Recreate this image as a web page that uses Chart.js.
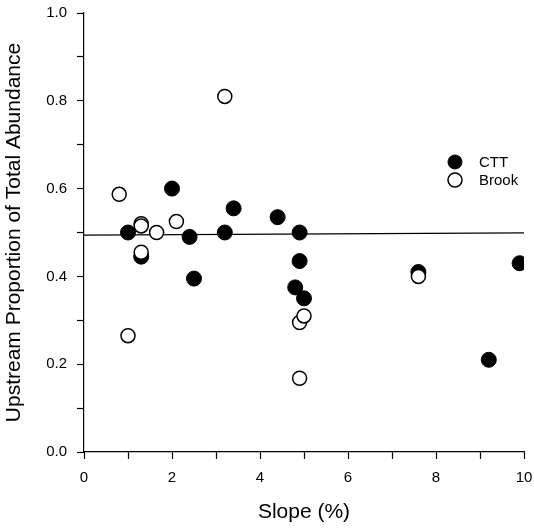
<!DOCTYPE html>
<html>
<head>
<meta charset="utf-8">
<script src="https://cdn.jsdelivr.net/npm/chart.js@4/dist/chart.umd.min.js"></script>
<style>
  html, body { margin: 0; padding: 0; background: #fff; }
  #wrap { width: 534px; height: 529px; }
</style>
</head>
<body>
<div id="wrap"><canvas id="grafica"></canvas></div>
<script>
// Datos
var cttX = [1.0, 1.3, 2.0, 2.4, 2.5, 3.2, 3.4, 4.4, 4.9, 4.9, 4.8, 5.0, 7.6, 9.9, 9.2];
var cttY = [0.50, 0.445, 0.60, 0.49, 0.395, 0.50, 0.555, 0.535, 0.50, 0.435, 0.375, 0.35, 0.41, 0.43, 0.21];

var brookX = [0.8, 1.0, 1.3, 1.3, 1.3, 1.65, 2.1, 3.2, 4.9, 5.0, 4.9, 7.6];
var brookY = [0.587, 0.265, 0.52, 0.515, 0.455, 0.50, 0.525, 0.81, 0.295, 0.31, 0.168, 0.40];

// Recta de regresion (extremos)
var lineaX = [0, 10];
var lineaY = [0.494, 0.499];

var etiquetas = ['CTT', 'Brook'];

function puntos(xs, ys) {
  return xs.map(function(x, i) { return { x: x, y: ys[i] }; });
}

var fuente = '"Liberation Sans", Arial, sans-serif';

// Leyenda dibujada dentro del area
var leyenda = {
  id: 'leyenda',
  afterDraw: function(chart) {
    var ctx = chart.ctx;
    var x0 = 455, y0 = 162, paso = 18;
    chart.data.datasets.forEach(function(ds, i) {
      if (!ds.label) return;
      var y = y0 + i * paso;
      ctx.save();
      ctx.beginPath();
      ctx.arc(x0, y, 7, 0, Math.PI * 2);
      ctx.fillStyle = ds.backgroundColor;
      ctx.fill();
      ctx.lineWidth = ds.borderWidth;
      ctx.strokeStyle = ds.borderColor;
      ctx.stroke();
      ctx.fillStyle = '#000';
      ctx.font = '15px ' + fuente;
      ctx.textBaseline = 'middle';
      ctx.fillText(ds.label, x0 + 24, y + 1);
      ctx.restore();
    });
  }
};

new Chart(document.getElementById('grafica').getContext('2d'), {
  data: {
    datasets: [
      {
        type: 'scatter',
        label: etiquetas[0],
        data: puntos(cttX, cttY),
        backgroundColor: '#000',
        borderColor: '#000',
        borderWidth: 1,
        pointRadius: 7.5,
        order: 1
      },
      {
        type: 'scatter',
        label: etiquetas[1],
        data: puntos(brookX, brookY),
        backgroundColor: '#fff',
        borderColor: '#000',
        borderWidth: 1.5,
        pointRadius: 7,
        order: 0
      },
      {
        type: 'line',
        label: '',
        data: puntos(lineaX, lineaY),
        borderColor: '#000',
        borderWidth: 1.2,
        pointRadius: 0,
        fill: false,
        order: 2
      }
    ]
  },
  options: {
    responsive: true,
    maintainAspectRatio: false,
    animation: false,
    layout: { padding: { left: 0, top: 13, right: 10, bottom: 0 } },
    plugins: {
      legend: { display: false },
      tooltip: { enabled: false }
    },
    scales: {
      x: {
        type: 'linear',
        min: 0,
        max: 10,
        afterFit: function(s) { s.height = 77; s.paddingLeft = 0; s.paddingRight = 0; },
        border: { display: true, color: '#000', width: 1.2 },
        grid: { drawOnChartArea: false, tickLength: 7, tickColor: '#000', tickWidth: 1.2 },
        ticks: {
          stepSize: 1,
          color: '#000',
          padding: 10,
          maxRotation: 0,
          font: { family: fuente, size: 15 },
          callback: function(v) { return v % 2 === 0 ? String(v) : ''; }
        },
        title: {
          display: true,
          text: 'Slope (%)',
          color: '#000',
          font: { family: fuente, size: 21 },
          padding: { top: 0, bottom: 4 }
        }
      },
      y: {
        type: 'linear',
        min: 0,
        max: 1,
        afterFit: function(s) { s.width = 84; s.paddingTop = 0; s.paddingBottom = 0; },
        border: { display: true, color: '#000', width: 1.2 },
        grid: { drawOnChartArea: false, tickLength: 7, tickColor: '#000', tickWidth: 1.2 },
        ticks: {
          stepSize: 0.1,
          color: '#000',
          padding: 10,
          font: { family: fuente, size: 15 },
          callback: function(v) {
            var n = Math.round(v * 10);
            return n % 2 === 0 ? (n / 10).toFixed(1) : '';
          }
        },
        title: {
          display: true,
          text: 'Upstream Proportion of Total Abundance',
          color: '#000',
          font: { family: fuente, size: 21 },
          padding: { top: 2, bottom: 0 }
        }
      }
    }
  },
  plugins: [leyenda]
});
</script>
</body>
</html>
